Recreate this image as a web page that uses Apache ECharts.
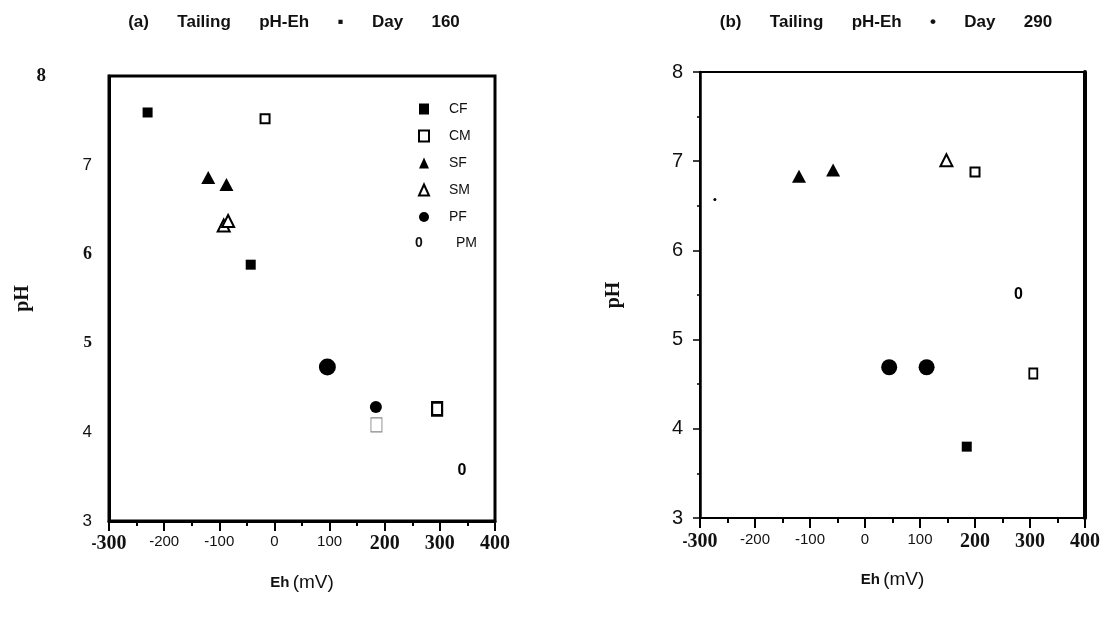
<!DOCTYPE html>
<html><head><meta charset="utf-8">
<script src="https://cdn.jsdelivr.net/npm/echarts@6/dist/echarts.min.js"></script>
<style>html,body{margin:0;padding:0;background:#fff}#c{width:1107px;height:618px}</style>
</head><body><div id="c"></div><script>
// ---- data (Eh mV, pH) ----
const ehTicks = [-300, -200, -100, 0, 100, 200, 300, 400];
const phTicks = [3, 4, 5, 6, 7, 8];
const seriesNames = ['CF', 'CM', 'SF', 'SM', 'PF', 'PM'];
const titleA = '(a)      Tailing      pH-Eh      ▪      Day      160';
const titleB = '(b)      Tailing      pH-Eh      •      Day      290';
const axisNameY = 'pH';
const pmMark = '0';

// Day 160
const cfA = [[-230, 7.59], [-43, 5.88]];
const cmA = [[-17, 7.52], [295, 4.26], [185, 4.08]];
const sfA = [[-120, 6.86], [-87, 6.78]];
const smA = [[-92, 6.32], [-84, 6.37]];
const pfA = [[96, 4.73], [184, 4.28]];
const pmA = [[340, 3.57]];
// Day 290
const cfB = [[185, 3.80]];
const cmB = [[200, 6.88], [306, 4.62]];
const sfB = [[-120, 6.83], [-58, 6.90]];
const smB = [[148, 7.01]];
const pfB = [[44, 4.69], [112, 4.69]];
const pmB = [[279, 5.51]];
const dotB = [[-273, 6.57]];

// ---- styles (kept apart from data) ----
const cmSizeA = [[9, 9], [10, 13], [11, 14]];
const cmBorderA = [[2, '#000'], [2.5, '#000'], [1, '#888']];
const cmSizeB = [[9, 9], [8, 10]];
const pfSizeA = [17, 12];
const pfSizeB = [16, 16];

const SANS = 'Liberation Sans';
const SERIF = 'Liberation Serif';

const xRich = {
  s: { fontFamily: SANS, fontSize: 15, fontWeight: 'bold', color: '#111' },
  b: { fontFamily: SERIF, fontSize: 20, fontWeight: 'bold', color: '#111' },
  n: { fontFamily: SANS, fontSize: 15, color: '#111' }
};
function ehLabel(v) {
  if (v === -300) return '{s|-}{b|300}';
  if (v >= 200) return '{b|' + v + '}';
  return '{n|' + v + '}';
}
const yRichA = {
  b8: { fontFamily: SERIF, fontSize: 19, fontWeight: 'bold', color: '#111', padding: [0, 46, 0, 0] },
  b: { fontFamily: SERIF, fontSize: 18, fontWeight: 'bold', color: '#111' },
  sv: { fontFamily: SERIF, fontSize: 17, fontWeight: 'bold', color: '#111' },
  n: { fontFamily: SANS, fontSize: 17, color: '#111' }
};
function phLabelA(v) {
  if (v === 8) return '{b8|8}';
  if (v === 6) return '{b|6}';
  if (v === 5) return '{sv|5}';
  return '{n|' + v + '}';
}

function xAxis(gi, margin) {
  return {
    type: 'value', gridIndex: gi, min: -300, max: 400, interval: 100,
    splitLine: { show: false },
    axisLine: { show: true, onZero: false, lineStyle: { color: '#000', width: gi === 0 ? 3 : 2 } },
    axisTick: { show: true, length: 10, lineStyle: { color: '#000', width: 2 } },
    minorTick: { show: true, splitNumber: 2, length: 5, lineStyle: { color: '#000', width: 2 } },
    axisLabel: { margin: margin, formatter: ehLabel, rich: xRich },
    name: '{a|Eh} {b|(mV)}', nameLocation: 'middle', nameGap: 52,
    nameTextStyle: { rich: {
      a: { fontFamily: SANS, fontSize: 15, fontWeight: 'bold', color: '#111' },
      b: { fontFamily: SANS, fontSize: 19, color: '#111' }
    } }
  };
}

function scatter(name, gi, data, extra) {
  const base = {
    type: 'scatter', name: name, xAxisIndex: gi, yAxisIndex: gi === 0 ? 0 : 1,
    data: data, silent: true, emphasis: { disabled: true }
  };
  const s = Object.assign(base, extra);
  s.itemStyle = Object.assign({ color: '#000', opacity: 1 }, extra && extra.itemStyle);
  return s;
}
const openStyle = { color: '#fff', borderColor: '#000', borderWidth: 2, opacity: 1 };

function panelSeries(gi, cf, cm, sf, sm, pf, pm, cmSize, cmBorder, pfSize) {
  return [
    scatter('CF', gi, cf, { symbol: 'rect', symbolSize: [10, 10] }),
    scatter('CM', gi, cm.map((p, i) => ({
      value: p, symbolSize: cmSize[i],
      itemStyle: { color: '#fff', opacity: 1, borderColor: cmBorder ? cmBorder[i][1] : '#000', borderWidth: cmBorder ? cmBorder[i][0] : 2 }
    })), { symbol: 'rect', itemStyle: openStyle }),
    scatter('SF', gi, sf, { symbol: 'triangle', symbolSize: [14, 13] }),
    scatter('SM', gi, sm, { symbol: 'triangle', symbolSize: [12, 12], itemStyle: openStyle }),
    scatter('PF', gi, pf.map((p, i) => ({ value: p, symbolSize: pfSize[i] })), { symbol: 'circle' }),
    scatter('PM', gi, pm, {
      symbol: 'circle', symbolSize: 1, itemStyle: { color: 'rgba(0,0,0,0)' },
      label: { show: true, position: 'inside', formatter: pmMark, color: '#000', fontFamily: SANS, fontSize: 16, fontWeight: 'bold' }
    })
  ];
}

const series = []
  .concat(panelSeries(0, cfA, cmA, sfA, smA, pfA, pmA, cmSizeA, cmBorderA, pfSizeA))
  .concat(panelSeries(1, cfB, cmB, sfB, smB, pfB, pmB, cmSizeB, null, pfSizeB))
  .concat([scatter('speck', 1, dotB, { symbol: 'circle', symbolSize: 3 })]);

const chart = echarts.init(document.getElementById('c'), null, { renderer: 'canvas' });
chart.setOption({
  animation: false,
  backgroundColor: '#fff',
  title: [
    { text: titleA, left: 289, top: 9, textAlign: 'center',
      textStyle: { fontFamily: SANS, fontSize: 17, fontWeight: 'bold', color: '#111' } },
    { text: titleB, left: 881, top: 9, textAlign: 'center',
      textStyle: { fontFamily: SANS, fontSize: 17, fontWeight: 'bold', color: '#111' } }
  ],
  legend: [
    {
      data: [
        { name: 'CF', icon: 'rect', itemStyle: { color: '#000', opacity: 1 } },
        { name: 'CM', icon: 'rect', itemStyle: { color: '#fff', borderColor: '#000', borderWidth: 2, opacity: 1 } },
        { name: 'SF', icon: 'triangle', itemStyle: { color: '#000', opacity: 1 } },
        { name: 'SM', icon: 'triangle', itemStyle: { color: '#fff', borderColor: '#000', borderWidth: 2, opacity: 1 } },
        { name: 'PF', icon: 'circle', itemStyle: { color: '#000', opacity: 1 } }
      ],
      orient: 'vertical', left: 413, top: 97, itemWidth: 10, itemHeight: 11, itemGap: 13,
      selectedMode: false, formatter: '{n|{name}}',
      textStyle: { rich: { n: { fontFamily: SANS, fontSize: 14, color: '#111', lineHeight: 14, padding: [0, 0, 0, 15] } } }
    },
    {
      data: [{ name: 'PM', icon: 'none', itemStyle: { opacity: 0 } }],
      orient: 'vertical', left: 395, top: 231, itemWidth: 10, itemHeight: 11,
      selectedMode: false, formatter: '{z|' + pmMark + '}{p|{name}}',
      textStyle: { rich: {
        z: { fontFamily: SANS, fontSize: 14, fontWeight: 'bold', color: '#111', width: 41, lineHeight: 14 },
        p: { fontFamily: SANS, fontSize: 14, color: '#111', lineHeight: 14 }
      } }
    }
  ],
  grid: [
    { left: 109, top: 76, width: 386, height: 445, show: true, borderColor: '#000', borderWidth: 3, backgroundColor: 'transparent' },
    { left: 700, top: 72, width: 385, height: 446, show: true, borderColor: '#000', borderWidth: 2, backgroundColor: 'transparent' }
  ],
  xAxis: [xAxis(0, 13), xAxis(1, 14)],
  yAxis: [
    {
      type: 'value', gridIndex: 0, min: 3, max: 8, interval: 1,
      splitLine: { show: false },
      axisLine: { show: true, onZero: false, lineStyle: { color: '#000', width: 3 } },
      axisTick: { show: false },
      axisLabel: { margin: 17, formatter: phLabelA, rich: yRichA },
      name: axisNameY, nameLocation: 'middle', nameGap: 74,
      nameTextStyle: { fontFamily: SERIF, fontWeight: 'bold', fontSize: 20, color: '#111' }
    },
    {
      type: 'value', gridIndex: 1, min: 3, max: 8, interval: 1,
      splitLine: { show: false },
      axisLine: { show: true, onZero: false, lineStyle: { color: '#000', width: 2.5 } },
      axisTick: { show: true, length: 7, lineStyle: { color: '#000', width: 1.5 } },
      minorTick: { show: true, splitNumber: 2, length: 3, lineStyle: { color: '#000', width: 1.5 } },
      axisLabel: { margin: 17, fontFamily: SANS, fontSize: 20, color: '#111' },
      name: axisNameY, nameLocation: 'middle', nameGap: 76,
      nameTextStyle: { fontFamily: SERIF, fontWeight: 'bold', fontSize: 20, color: '#111' }
    },
    {
      type: 'value', gridIndex: 1, min: 3, max: 8, interval: 1, position: 'right',
      splitLine: { show: false },
      axisLine: { show: true, onZero: false, lineStyle: { color: '#000', width: 4 } },
      axisTick: { show: false }, axisLabel: { show: false }
    }
  ],
  series: series
});
</script></body></html>
